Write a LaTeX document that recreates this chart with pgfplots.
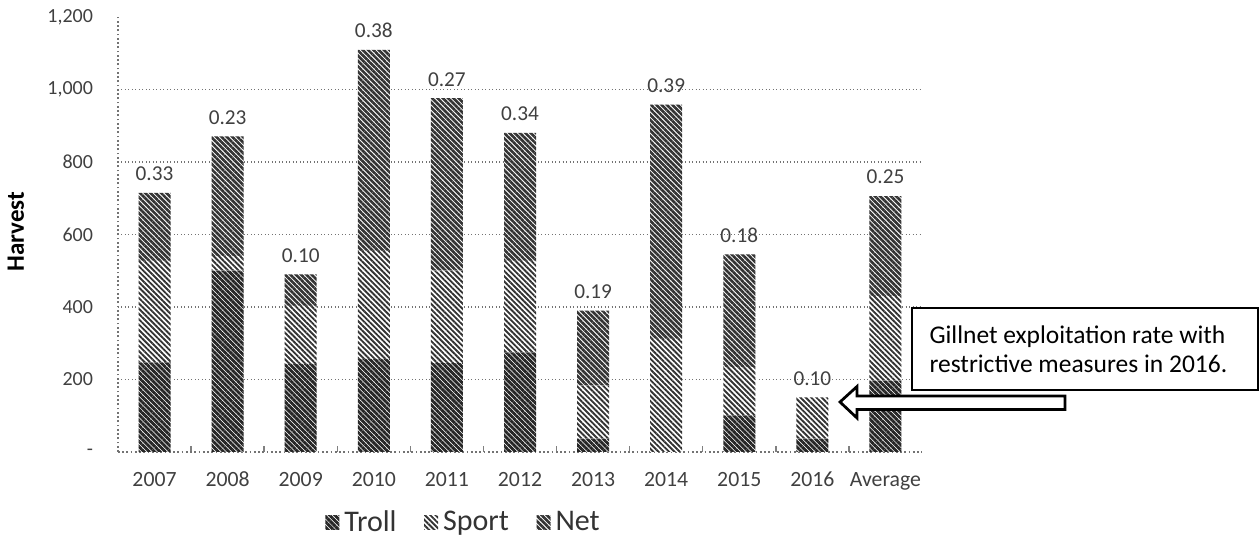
\documentclass[border=0pt]{standalone}
\usepackage{fontspec}
\setmainfont{Carlito}
\usepackage{pgfplots}
\pgfplotsset{compat=1.18}
\usepackage{pgfplotstable}
\usetikzlibrary{patterns.meta}

\pgfplotstableread{
x label troll sport net total rate
0 2007 247 280 188 715 0.33
1 2008 500 40 331 871 0.23
2 2009 243 160 87 490 0.10
3 2010 257 298 554 1109 0.38
4 2011 245 255 476 976 0.27
5 2012 275 252 353 880 0.34
6 2013 37 146 207 390 0.19
7 2014 0 312 646 958 0.39
8 2015 101 133 311 545 0.18
9 2016 37 114 0 151 0.10
10 Average 197 233 276 706 0.25
}\harvest

\tikzset{
  darkbar/.style={fill=white, draw=none, postaction={pattern={Lines[angle=-45,distance=1.5pt,line width=1.15pt]}, pattern color=black!85}},
  netbar/.style={fill=white, draw=none, postaction={pattern={Lines[angle=-45,distance=1.5pt,line width=1.05pt]}, pattern color=black!80}},
  lightbar/.style={fill=white, draw=none, postaction={pattern={Lines[angle=-45,distance=1.5pt,line width=0.75pt]}, pattern color=black!80}},
}
\pgfplotsset{
  frame/.style={at={(47.2pt,35.6pt)}, anchor=south west,
    scale only axis, width=321.6pt, height=174pt,
    xmin=-0.5, xmax=10.5, ymin=0, ymax=1200, clip=false},
}

\begin{document}
\begin{tikzpicture}
\useasboundingbox (0,0) rectangle (503.6pt,216.4pt);
\begin{axis}[
  frame,
  ybar stacked, bar width=12.8pt,
  xtick={0,...,10},
  xticklabels={2007,2008,2009,2010,2011,2012,2013,2014,2015,2016,Average},
  minor x tick num=1,
  major x tick style={draw=none},
  minor x tick style={black!50, line width=0.6pt},
  minor tick length=2.5pt,
  ytick={200,400,...,1000},
  extra y ticks={0,1200},
  extra y tick labels={-,{1,200}},
  extra y tick style={grid=none},
  major y tick style={draw=none},
  ymajorgrids,
  grid style={densely dotted, black!55, line width=0.6pt},
  axis x line*=bottom, axis y line*=left,
  axis line style={densely dotted, black!55, line width=0.7pt, -},
  /pgf/number format/assume math mode=true,
  /pgf/number format/1000 sep={,},
  yticklabel style={font=\fontsize{8}{9.6}\selectfont, text=black!75, xshift=-6.5pt},
  xticklabel style={font=\fontsize{8.7}{10}\selectfont, text=black!75, text height=1.6ex, text depth=0.2ex, yshift=-2.5pt},
  ylabel={Harvest},
  ylabel style={at={(rel axis cs:-0.127,0.506)}, anchor=center, font=\bfseries\fontsize{10}{12}\selectfont},
  legend style={at={(rel axis cs:0.4316,-0.163)}, anchor=center, draw=none, fill=none,
    legend columns=-1, font=\fontsize{12}{14}\selectfont, text=black!80,
    /tikz/every even column/.append style={column sep=9pt}},
  legend image code/.code={\path[#1] (0pt,-2.8pt) rectangle (5.6pt,2.8pt);},
]
\addplot[darkbar] table[x=x, y=troll] {\harvest};
\addlegendentry{Troll}
\addplot[lightbar] table[x=x, y=sport] {\harvest};
\addlegendentry{Sport}
\addplot[netbar] table[x=x, y=net] {\harvest};
\addlegendentry{Net}
\end{axis}
% exploitation rates above the bars
\begin{axis}[frame, hide axis]
\addplot[only marks, mark=none,
  nodes near coords, point meta=explicit symbolic,
  every node near coord/.append style={anchor=south, inner sep=0pt, yshift=4.6pt,
    font=\fontsize{8.5}{10}\selectfont, text=black!75}]
  table[x=x, y=total, meta=rate] {\harvest};
\end{axis}
% annotation
\draw[line width=0.8pt, fill=white] (364.8pt,60.4pt) rectangle (503.2pt,93.2pt);
\node[anchor=west, align=left, inner sep=0pt, font=\fontsize{10.2}{11.4}\selectfont] at (371.6pt,76.6pt)
  {Gillnet exploitation rate with\\restrictive measures in 2016.};
\draw[line width=1.1pt, fill=white, line join=miter]
  (336pt,55.6pt) -- (342.8pt,61.8pt) -- (342.8pt,58pt) -- (426pt,58pt)
  -- (426pt,52.6pt) -- (342.8pt,52.6pt) -- (342.8pt,49.2pt) -- cycle;
\end{tikzpicture}
\end{document}
